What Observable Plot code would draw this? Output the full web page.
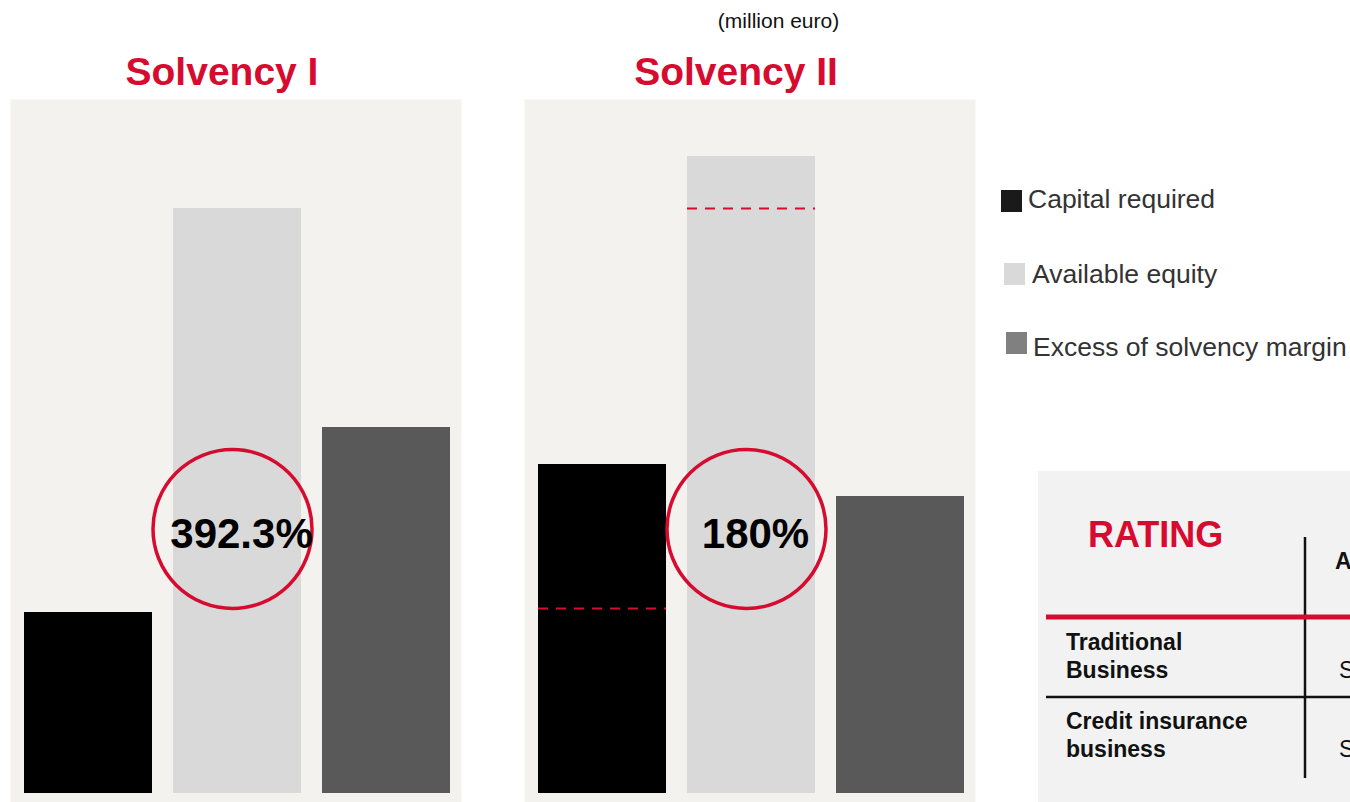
<!DOCTYPE html>
<html><head><meta charset="utf-8">
<script src="https://cdn.jsdelivr.net/npm/d3@7"></script>
<script src="https://cdn.jsdelivr.net/npm/@observablehq/plot@0.6"></script>
<style>
html,body{margin:0;padding:0;background:#fff;}
#page{position:relative;width:1350px;height:802px;overflow:hidden;font-family:"Liberation Sans",Arial,sans-serif;}
#chart{position:absolute;left:0;top:0;}
#overlay{position:absolute;left:0;top:0;pointer-events:none;}
</style></head>
<body><div id="page"><div id="chart"></div><svg id="overlay" width="1350" height="802"></svg></div>
<script>
// ---- data ----
const panels = ["Solvency I", "Solvency II"];
const categories = ["Capital required", "Available equity", "Excess of solvency margin"];
const solvency1Values = [181, 585, 366];
const solvency2Values = [329, 637, 297];
const ratioLabels = ["392.3%", "180%"];
const referencePanel = "Solvency II";
const referenceCategories = ["Capital required", "Available equity"];
const referenceValues = [185, 585];
const unitLabel = "(million euro)";
const ratingTitle = "RATING";
const ratingRows = [["Traditional", "Business"], ["Credit insurance", "business"]];
const ratingHeader = "A";
const ratingCells = ["S", "S"];

// ---- styles ----
const RED = "#d50c2f";
const barColors = ["#000000", "#d9d9d9", "#595959"];
const legendColors = ["#1a1a1a", "#d9d9d9", "#808080"];
const FONT = '"Liberation Sans", Arial, sans-serif';

// ---- tables built from arrays ----
const bars = [];
[solvency1Values, solvency2Values].forEach((vals, i) =>
  vals.forEach((v, j) => bars.push({panel: panels[i], category: categories[j], value: v})));
const ratios = panels.map((p, i) => ({panel: p, label: ratioLabels[i]}));
const refs = referenceCategories.map((c, i) => ({panel: referencePanel, category: c, value: referenceValues[i]}));

const chart = Plot.plot({
  width: 980,
  height: 802,
  marginTop: 99,
  marginBottom: 0,
  marginLeft: 10,
  marginRight: 5,
  style: {fontFamily: FONT, background: "transparent"},
  fx: {domain: panels, paddingInner: 63 / 514, paddingOuter: 0},
  x: {domain: categories, paddingInner: 0.1438, paddingOuter: 0.0803, align: 0.55, axis: null},
  y: {domain: [0, 693], range: [793, 100], axis: null},
  color: {domain: categories, range: barColors},
  marks: [
    Plot.frame({fill: "#f3f2ee", stroke: "none"}),
    Plot.barY(bars, {fx: "panel", x: "category", y: "value", fill: "category"}),
    Plot.tickY(refs, {fx: "panel", x: "category", y: "value", stroke: RED, strokeWidth: 2, strokeDasharray: "10 8"}),
    Plot.dot(ratios, {fx: "panel", x: () => categories[1], r: 79.5, stroke: RED, strokeWidth: 3.5, fill: "none", frameAnchor: "middle", dx: -5, dy: 78}),
    Plot.text(ratios, {fx: "panel", x: () => categories[1], text: "label", fontSize: 42, fontWeight: "bold", fill: "#000", frameAnchor: "middle", dx: 4, dy: 84}),
    Plot.axisFx({anchor: "top", label: null, tickSize: 0, tickPadding: 15, fontSize: 39, fontWeight: "bold", color: RED, dx: -14})
  ]
});
document.getElementById("chart").appendChild(chart);

// ---- overlay: unit label, legend, rating table ----
const svg = d3.select("#overlay").style("font-family", FONT);
svg.append("text").attr("x", 778.5).attr("y", 28).attr("text-anchor", "middle")
  .attr("font-size", 21).attr("fill", "#111").text(unitLabel);

const legendPos = [
  {sx: 1001, sy: 190, tx: 1028, ty: 208},
  {sx: 1004, sy: 263, tx: 1032, ty: 283},
  {sx: 1006, sy: 332, tx: 1033, ty: 356}
];
categories.forEach((c, i) => {
  const p = legendPos[i];
  svg.append("rect").attr("x", p.sx).attr("y", p.sy).attr("width", 21).attr("height", 22).attr("fill", legendColors[i]);
  svg.append("text").attr("x", p.tx).attr("y", p.ty).attr("font-size", 26.5).attr("fill", "#333").text(c);
});

svg.append("rect").attr("x", 1038).attr("y", 471).attr("width", 320).attr("height", 340).attr("fill", "#f2f2f2");
svg.append("text").attr("x", 1088).attr("y", 547).attr("font-size", 36).attr("font-weight", "bold").attr("fill", RED).text(ratingTitle);
svg.append("line").attr("x1", 1305).attr("x2", 1305).attr("y1", 537).attr("y2", 778).attr("stroke", "#111").attr("stroke-width", 2.5);
svg.append("line").attr("x1", 1046).attr("x2", 1350).attr("y1", 617).attr("y2", 617).attr("stroke", RED).attr("stroke-width", 5);
svg.append("line").attr("x1", 1046).attr("x2", 1350).attr("y1", 697).attr("y2", 697).attr("stroke", "#111").attr("stroke-width", 2.5);
svg.append("text").attr("x", 1335).attr("y", 569).attr("font-size", 23).attr("font-weight", "bold").attr("fill", "#111").text(ratingHeader);
const rowBase = [650, 729];
ratingRows.forEach((lines, i) => {
  lines.forEach((l, k) => {
    svg.append("text").attr("x", 1066).attr("y", rowBase[i] + k * 28).attr("font-size", 23).attr("font-weight", "bold").attr("fill", "#111").text(l);
  });
  svg.append("text").attr("x", 1339).attr("y", rowBase[i] + 28).attr("font-size", 23).attr("fill", "#111").text(ratingCells[i]);
});
</script>
</body></html>
